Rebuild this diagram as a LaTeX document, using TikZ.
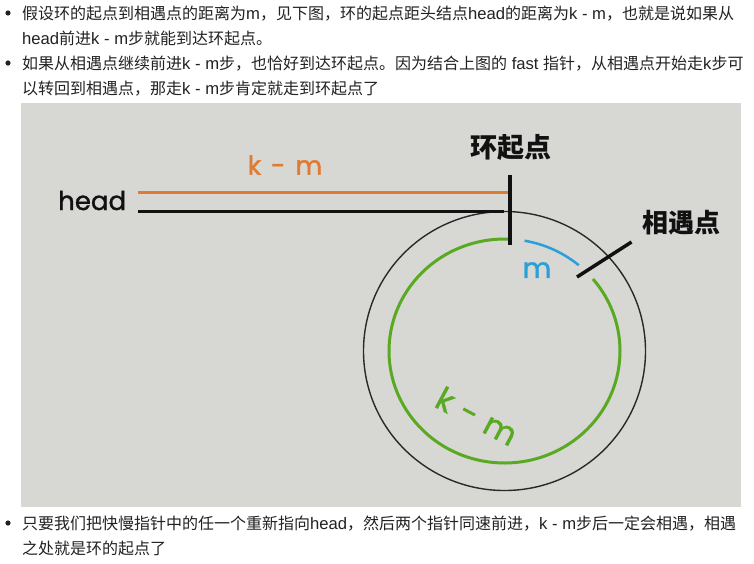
\documentclass[tikz,border=0pt]{standalone}
\usepackage{fontspec}
\setmainfont{Noto Sans CJK SC}
\newfontfamily\latfont{Liberation Sans}[Scale=1.04]
\newfontfamily\handfont{Poppins}[FakeBold=1.3]
\newcommand{\latn}[1]{{\latfont #1}}
\definecolor{bggray}{HTML}{D7D7D4}
\definecolor{txt}{HTML}{222222}
\definecolor{orangec}{HTML}{DF7B32}
\definecolor{bluec}{HTML}{2A9FD8}
\definecolor{greenc}{HTML}{5AA923}
\definecolor{inkc}{HTML}{111111}
\tikzset{
  para/.style={anchor=base west, inner sep=0pt, text=txt, font=\fontsize{16}{20}\selectfont},
  bul/.style={fill=txt},
  lbl/.style={inner sep=0pt, text=inkc, font=\fontsize{27}{30}\selectfont\bfseries},
  hand/.style={inner sep=0pt, font=\handfont\fontsize{26}{30}\selectfont},
  tick/.style={draw=inkc, line width=3.5pt},
  ring/.style={draw=inkc!90, line width=1.4pt},
}
\begin{document}
\begin{tikzpicture}[x=1pt,y=-1pt]
\useasboundingbox[fill=white] (0,0) rectangle (754,563);
% text above
\fill[bul] (8,13) circle (2.6pt);
\fill[bul] (8,63) circle (2.6pt);
\fill[bul] (8,523) circle (2.6pt);
\node[para] (l1) at (22,19) {假设环的起点到相遇点的距离为\latn{m}，见下图，环的起点距头结点\latn{head}的距离为\latn{k - m}，也就是说如果从};
\node[para] (l2) at (22,44.5) {\latn{head}前进\latn{k - m}步就能到达环起点。};
\node[para] (l3) at (22,69) {如果从相遇点继续前进\latn{k - m}步，也恰好到达环起点。因为结合上图的\latn{ fast }指针，从相遇点开始走\latn{k}步可};
\node[para] (l4) at (22,94.5) {以转回到相遇点，那走\latn{k - m}步肯定就走到环起点了};
% picture
\fill[bggray] (21,103) rectangle (741,507);
\coordinate (O) at (504.5,351);
\draw[ring] (O) ellipse [x radius=141pt, y radius=139.5pt];
\draw[greenc, line width=3pt] ([shift={(40:115.5pt and 112pt)}]O) arc[start angle=40, end angle=-273, x radius=115.5pt, y radius=112pt];
\draw[bluec, line width=2.5pt] ([shift={(80:115.5pt and 112pt)}]O) arc[start angle=80, end angle=50, x radius=115.5pt, y radius=112pt];
\coordinate (ha) at (138,192);
\coordinate (hb) at (510,192);
\coordinate (hc) at (138,211.5);
\coordinate (hd) at (504,211.5);
\draw[orangec, line width=3pt] (ha) -- (hb);
\draw[inkc, line width=3pt] (hc) -- (hd);
\coordinate (t1) at (510,175);
\coordinate (t2) at (510,245);
\draw[tick] (t1) -- (t2);
\coordinate (m1) at (577,277);
\coordinate (m2) at (631.5,242);
\draw[tick] (m1) -- (m2);
\node[hand, anchor=base west, text=inkc] (head) at (58,210) {head};
\node[hand, text=orangec] (km1) at (285,165) {k\hspace{10pt}-\hspace{10pt}m};
\node[lbl] (start) at (511,147) {环起点};
\node[lbl, font=\fontsize{26}{30}\selectfont\bfseries] (meet) at (681,223) {相遇点};
\node[hand, text=bluec, font=\handfont\fontsize{28}{30}\selectfont] (mm) at (537,270) {m};
\node[hand, text=greenc, rotate=-28, font=\handfont\fontsize{32}{34}\selectfont] (km2) at (477,416) {k\hspace{10pt}-\hspace{10pt}m};
% text below
\node[para] (l5) at (22,529) {只要我们把快慢指针中的任一个重新指向\latn{head}，然后两个指针同速前进，\latn{k - m}步后一定会相遇，相遇};
\node[para] (l6) at (22,554) {之处就是环的起点了};
\end{tikzpicture}
\end{document}
